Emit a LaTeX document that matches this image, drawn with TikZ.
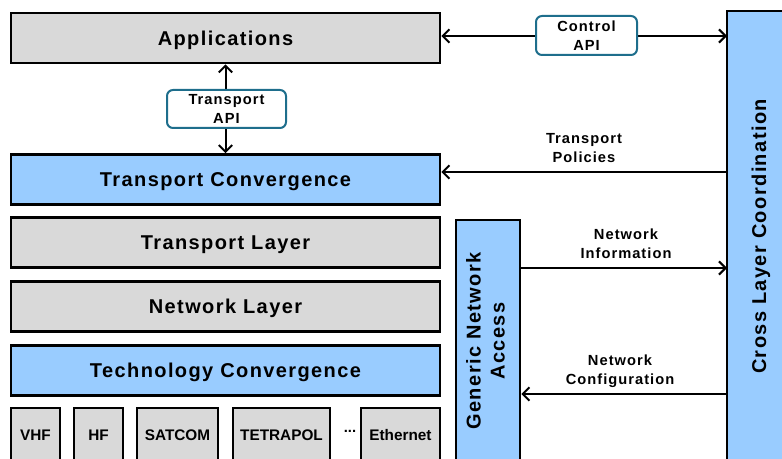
\documentclass[tikz,border=0pt]{standalone}
\usepackage{fontspec}
\setmainfont{Liberation Sans}[LetterSpace=7]
\usepackage{tikz}
\usetikzlibrary{arrows.meta}

\definecolor{layergray}{HTML}{D9D9D9}
\definecolor{layerblue}{HTML}{99CCFF}
\definecolor{apiteal}{HTML}{1E6E8C}

\begin{document}
\begin{tikzpicture}[
      x=0.75pt, y=-0.75pt,
      box/.style={rectangle, draw, line width=1.9pt, inner sep=0pt, font=\bfseries\fontsize{15}{17}\selectfont},
      layer/.style={box, minimum width=321.75pt, minimum height=37.5pt, text height=10.8pt, text depth=0pt},
      graylayer/.style={layer, fill=layergray},
      bluelayer/.style={layer, fill=layerblue},
      tech/.style={box, fill=layergray, minimum height=40.5pt, text height=8.3pt, text depth=0pt, font=\bfseries\fontsize{11.5}{13}\selectfont\addfontfeatures{LetterSpace=0}},
      api/.style={rectangle, rounded corners=4.5pt, draw=apiteal, line width=1.5pt, fill=white, align=center, inner sep=0pt, font=\bfseries\fontsize{11}{14}\selectfont},
      info/.style={align=center, font=\bfseries\fontsize{11}{14}\selectfont},
      pointer/.style={line width=1.5pt, -{Straight Barb[length=5pt,width=10pt]}},
      dpointer/.style={line width=1.5pt, {Straight Barb[length=5pt,width=10pt]}-{Straight Barb[length=5pt,width=10pt]}}
      ]

      \useasboundingbox (0,0) rectangle (782,459);
      \clip (0,0) rectangle (782,459);

      %protocol stack
      \node[graylayer] (apps) at (225.5,38) {Applications};
      \node[bluelayer] (transconv) at (225.5,179.5) {Transport Convergence};
      \node[graylayer] (translayer) at (225.5,242.5) {Transport Layer};
      \node[graylayer] (netlayer) at (225.5,306.5) {Network Layer};
      \node[bluelayer] (techconv) at (225.5,370.5) {Technology Convergence};

      %access technologies
      \node[tech, minimum width=36.75pt] (vhf) at (35.5,435) {VHF};
      \node[tech, minimum width=36.75pt] (hf) at (98.5,435) {HF};
      \node[tech, minimum width=60.75pt] (satcom) at (177.5,435) {SATCOM};
      \node[tech, minimum width=72.75pt] (tetrapol) at (281.5,435) {TETRAPOL};
      \node[font=\bfseries\fontsize{11}{13}\selectfont\addfontfeatures{LetterSpace=0}] (more) at (350,431) {...};
      \node[tech, minimum width=59.25pt] (ethernet) at (400.5,435) {Ethernet};

      %side blocks
      \node[box, fill=layerblue, minimum width=48pt, minimum height=181.5pt, align=center] (gna) at (488,341)
        {\rotatebox{90}{\begin{tabular}{@{}c@{}}Generic Network\\[1pt] Access\end{tabular}}};
      \node[box, fill=layerblue, minimum width=51pt, minimum height=338.25pt] (clc) at (761,236.5)
        {\rotatebox{90}{Cross Layer Coordination}};

      %edges to the coordination block
      \coordinate (ctrl) at (727,36);
      \coordinate (pol) at (727,172);
      \coordinate (netinfo) at (727,268);
      \coordinate (netconf) at (727,394);
      \draw[dpointer] (ctrl -| apps.east) -- (ctrl);
      \draw[pointer] (pol) -- (pol -| transconv.east);
      \draw[pointer] (netinfo -| gna.east) -- (netinfo);
      \draw[pointer] (netconf) -- (netconf -| gna.east);
      \draw[dpointer] (apps.south) -- (transconv.north);

      %interfaces and labels
      \node[api, minimum width=75.75pt, minimum height=29.25pt] (ctrlapi) at (586.5,35.5) {Control\\API};
      \node[api, minimum width=89.25pt, minimum height=28.5pt] (transapi) at (226.5,109) {Transport\\API};
      \node[info] (pollabel) at (584,148) {Transport\\Policies};
      \node[info] (infolabel) at (626,244) {Network\\Information};
      \node[info] (conflabel) at (620,371) {Network\\Configuration};
\end{tikzpicture}
\end{document}
